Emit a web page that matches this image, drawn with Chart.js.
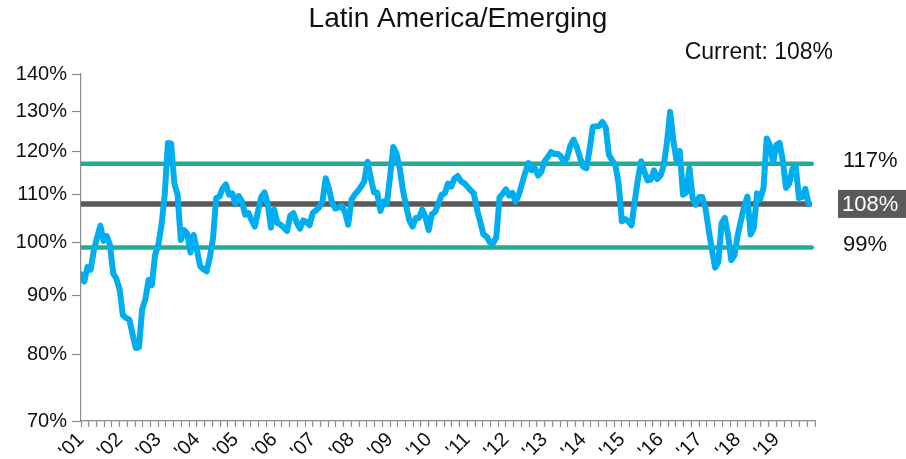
<!DOCTYPE html>
<html>
<head>
<meta charset="utf-8">
<script src="https://cdn.jsdelivr.net/npm/chart.js@4.4.1/dist/chart.umd.min.js"></script>
<style>
  html, body { margin: 0; padding: 0; background: #ffffff; }
  #wrap { width: 906px; height: 459px; }
</style>
</head>
<body>
<div id="wrap"><canvas id="c" width="906" height="459"></canvas></div>
<script>
// Relative valuation, Latin America vs. Emerging markets, monthly from Jan 2001
const chartTitle = 'Latin America/Emerging';
const yearLabels = ["'01", "'02", "'03", "'04", "'05", "'06", "'07", "'08", "'09", "'10",
                    "'11", "'12", "'13", "'14", "'15", "'16", "'17", "'18", "'19"];
const yTickValues = [70, 80, 90, 100, 110, 120, 130, 140];

const ratio = [
  // 2001
  93.8, 92.5, 95.2, 94.7, 98.5, 101, 103.4, 100.3, 101.3, 99.5, 94, 93,
  // 2002
  91, 86.5, 86, 85.7, 83.3, 81, 81.1, 87.5, 89.3, 92.8, 91.8, 97.5,
  // 2003
  99.5, 103.5, 110, 122, 121.8, 112.5, 110, 100.5, 102.5, 101.8, 98, 101.5,
  // 2004
  98.5, 95.4, 94.8, 94.4, 97, 100.8, 109.3, 109.6, 111.4, 112.3, 110, 110.3,
  // 2005
  108, 109.7, 108.5, 105.7, 106.1, 104.5, 103.2, 106.5, 109.5, 110.5, 108, 103,
  // 2006
  106.8, 104, 103.6, 103, 102.3, 105.5, 106, 104, 102.8, 104.5, 104.2, 103.5,
  // 2007
  106.1, 106.6, 107.3, 108.5, 113.7, 111.4, 108.2, 107, 107.2, 107.6, 106.2, 103.6,
  // 2008
  108.9, 110, 110.8, 111.8, 113, 117.5, 113.8, 110.5, 110.5, 106.5, 108.5, 108,
  // 2009
  114, 121, 119.4, 116, 111, 107.5, 104.5, 103.2, 105, 105, 106.8, 105.2,
  // 2010
  102.5, 105.8, 106.3, 108, 110, 110.3, 112.5, 111.8, 113.6, 114.2, 113, 112.6,
  // 2011
  111.8, 111, 110.3, 106.8, 104.3, 101.6, 101.2, 100, 99.8, 101, 109.4, 110.2,
  // 2012
  111.2, 109.8, 110.4, 108.5, 110, 112.5, 115, 117.2, 115.5, 116, 114.3, 115.2,
  // 2013
  117.6, 118.6, 119.8, 119.3, 119.4, 118.8, 117.4, 118.5, 121.3, 122.8, 121, 118.5,
  // 2014
  116.3, 116, 120.5, 126, 126.1, 126.2, 127.2, 125.8, 119.1, 117.8, 116.7, 112.5,
  // 2015
  104.3, 104.8, 104.3, 103.5, 108.5, 113.5, 117.6, 115.2, 113.2, 113.4, 115.5, 113.5,
  // 2016
  114.3, 116.6, 122, 129.8, 122.6, 117.8, 120, 110, 110.5, 116, 109.2, 107.8,
  // 2017
  109.5, 109.5, 107, 102.5, 98.5, 95.1, 96.2, 104, 105, 101.5, 96.5, 97.5,
  // 2018
  101.5, 104.5, 107.5, 109.6, 101.6, 103, 110.3, 109, 111.5, 123.1, 121.5, 117.2,
  // 2019
  121.5, 122, 117.8, 111.5, 112.5, 115.8, 116.5, 109.3, 109.5, 111.3, 108
];

// Band levels: upper / long-run average / lower
const upperBand = 117;
const meanLevel = 108;
const lowerBand = 99;
const currentValue = ratio[ratio.length - 1];

const FONT = '"Liberation Sans", Arial, Helvetica, sans-serif';
const BLUE = '#00AEEF';
const GREEN = '#24AC93';
const GREY = '#5A5A5A';
const AXIS = '#8C8C8C';

const MONTHS_PER_YEAR = 12;
const MINOR_PER_YEAR = 5;       // tick intervals per year on the time axis
const axisEnd = yearLabels.length * MONTHS_PER_YEAR; // closing tick of the axis

const seriesPoints = ratio.map((v, i) => ({ x: i, y: v }));
const levelLine = (v) => [{ x: 0, y: v }, { x: ratio.length, y: v }];

// Titles and band labels on the right
const annotations = {
  id: 'annotations',
  afterDraw(chart) {
    const ctx = chart.ctx;
    const ys = chart.scales.y;
    ctx.save();
    ctx.fillStyle = '#111';
    ctx.textBaseline = 'middle';

    ctx.font = '28px ' + FONT;
    ctx.textAlign = 'center';
    ctx.fillText(chartTitle, 458, 19);

    ctx.font = '23px ' + FONT;
    ctx.textAlign = 'right';
    ctx.fillText('Current: ' + currentValue + '%', 833, 53);

    ctx.textAlign = 'left';
    ctx.font = '22px ' + FONT;
    [upperBand, lowerBand].forEach(v => {
      ctx.fillStyle = '#111';
      ctx.fillText(v + '%', 843, ys.getPixelForValue(v) - 3);
    });

    const ym = ys.getPixelForValue(meanLevel);
    ctx.fillStyle = GREY;
    ctx.fillRect(838, ym - 14, 68, 28);
    ctx.fillStyle = '#ffffff';
    ctx.fillText(meanLevel + '%', 842, ym + 1);
    ctx.restore();
  }
};

new Chart(document.getElementById('c'), {
  type: 'line',
  data: {
    datasets: [
      {
        label: 'Latin America/Emerging',
        data: seriesPoints,
        borderColor: BLUE,
        borderWidth: 6,
        pointRadius: 0,
        tension: 0,
        borderJoinStyle: 'round',
        borderCapStyle: 'round',
        order: 0
      },
      {
        label: 'Mean',
        data: levelLine(meanLevel),
        borderColor: GREY,
        borderWidth: 5.5,
        pointRadius: 0,
        borderCapStyle: 'butt',
        order: 1
      },
      {
        label: 'Upper',
        data: levelLine(upperBand),
        borderColor: GREEN,
        borderWidth: 4.5,
        pointRadius: 0,
        borderCapStyle: 'round',
        order: 2
      },
      {
        label: 'Lower',
        data: levelLine(lowerBand),
        borderColor: GREEN,
        borderWidth: 4.5,
        pointRadius: 0,
        borderCapStyle: 'round',
        order: 2
      }
    ]
  },
  options: {
    responsive: false,
    animation: false,
    devicePixelRatio: 1,
    layout: { padding: { top: 74, right: 91, left: 0, bottom: 0 } },
    plugins: {
      legend: { display: false },
      title: { display: false },
      tooltip: { enabled: false }
    },
    scales: {
      x: {
        type: 'linear',
        min: 0,
        max: axisEnd,
        afterBuildTicks(scale) {
          const n = yearLabels.length * MINOR_PER_YEAR;
          const ticks = [];
          for (let j = 0; j <= n; j++) ticks.push({ value: j * MONTHS_PER_YEAR / MINOR_PER_YEAR });
          scale.ticks = ticks;
        },
        afterFit(scale) { scale.height = 38; },
        border: { display: true, color: AXIS, width: 1.2 },
        grid: {
          drawOnChartArea: false,
          drawTicks: true,
          tickLength: 6,
          color: AXIS,
          tickWidth: 1.2
        },
        ticks: {
          autoSkip: false,
          minRotation: 45,
          maxRotation: 45,
          padding: 1,
          color: '#111',
          font: { family: FONT, size: 20 },
          callback(value) {
            const k = Math.round(value / MONTHS_PER_YEAR);
            if (Math.abs(value - k * MONTHS_PER_YEAR) < 1e-6 && k < yearLabels.length) return yearLabels[k];
            return '';
          }
        }
      },
      y: {
        type: 'logarithmic',
        min: 70,
        max: 140,
        afterBuildTicks(scale) {
          scale.ticks = yTickValues.map(v => ({ value: v }));
        },
        afterFit(scale) { scale.width = 81; },
        border: { display: true, color: AXIS, width: 1.2 },
        grid: {
          drawOnChartArea: false,
          drawTicks: true,
          tickLength: 9,
          color: AXIS,
          tickWidth: 1.2
        },
        ticks: {
          padding: 5,
          color: '#111',
          font: { family: FONT, size: 20 },
          callback(value) { return value + '%'; }
        }
      }
    }
  },
  plugins: [annotations]
});
</script>
</body>
</html>
